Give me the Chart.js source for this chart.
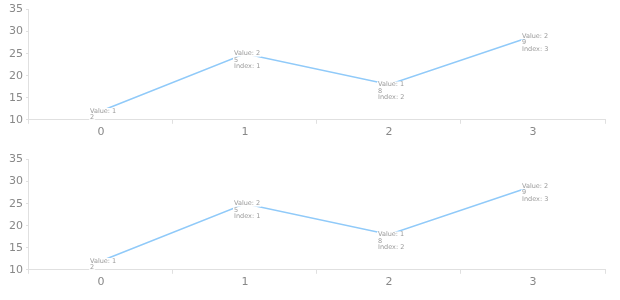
<!DOCTYPE html>
<html>
<head>
<meta charset="utf-8">
<script src="https://cdn.jsdelivr.net/npm/chart.js@4"></script>
<style>
  html, body { margin: 0; padding: 0; background: #fff; }
  .box { width: 620px; height: 150px; position: relative; }
</style>
</head>
<body>
<div class="box"><canvas id="chartTop"></canvas></div>
<div class="box"><canvas id="chartBottom"></canvas></div>
<script>
const categories = ['0', '1', '2', '3'];
const topValues = [12, 25, 18, 29];
const bottomValues = [12, 25, 18, 29];
const yTicks = [10, 15, 20, 25, 30, 35];

// draws "Value: x / Index: i" next to each point, wrapped in a narrow box
const pointLabels = {
  id: 'pointLabels',
  afterDatasetsDraw(chart) {
    const ctx = chart.ctx;
    const area = chart.chartArea;
    const meta = chart.getDatasetMeta(0);
    const vals = chart.data.datasets[0].data;
    ctx.save();
    ctx.beginPath();
    ctx.rect(area.left, area.top, area.right - area.left, area.bottom - area.top);
    ctx.clip();
    ctx.font = '6.5px "DejaVu Sans", sans-serif';
    ctx.textBaseline = 'middle';
    ctx.textAlign = 'left';
    const maxW = ctx.measureText('Value: 2').width + 1;
    meta.data.forEach((pt, i) => {
      const lines = [];
      ['Value: ' + vals[i], 'Index: ' + i].forEach(str => {
        let cur = '';
        for (const ch of str) {
          if (ctx.measureText(cur + ch).width > maxW && cur) {
            lines.push(cur);
            cur = ch;
          } else {
            cur += ch;
          }
        }
        lines.push(cur);
      });
      const x = pt.x - 11;
      lines.forEach((ln, k) => {
        const y = pt.y + k * 6.5;
        const w = ctx.measureText(ln).width;
        ctx.fillStyle = '#fff';
        ctx.fillRect(x - 1, y - 3, w + 2, 6);
        ctx.fillStyle = '#999';
        ctx.fillText(ln, x, y);
      });
    });
    ctx.restore();
  }
};

function makeChart(id, values) {
  return new Chart(document.getElementById(id), {
    type: 'line',
    data: {
      labels: categories,
      datasets: [{
        data: values,
        borderColor: '#90caf9',
        borderWidth: 1.5,
        pointRadius: 0,
        tension: 0,
        fill: false
      }]
    },
    options: {
      responsive: true,
      maintainAspectRatio: false,
      animation: false,
      layout: { padding: { top: 0, right: 15, left: 6, bottom: 9 } },
      plugins: { legend: { display: false }, tooltip: { enabled: false } },
      scales: {
        x: {
          offset: true,
          grid: { display: true, drawOnChartArea: false, drawTicks: true, tickLength: 4, color: '#e0e0e0', offset: true },
          border: { color: '#e0e0e0' },
          ticks: { color: '#888', font: { size: 11, family: 'DejaVu Sans' }, padding: 2 }
        },
        y: {
          min: 10,
          max: 35,
          afterBuildTicks: axis => { axis.ticks = yTicks.map(v => ({ value: v })); },
          grid: { display: true, drawOnChartArea: false, drawTicks: true, tickLength: 3, color: '#e0e0e0' },
          border: { color: '#e0e0e0' },
          ticks: { color: '#888', font: { size: 11, family: 'DejaVu Sans' }, padding: 3 }
        }
      }
    },
    plugins: [pointLabels]
  });
}

makeChart('chartTop', topValues);
makeChart('chartBottom', bottomValues);
</script>
</body>
</html>
